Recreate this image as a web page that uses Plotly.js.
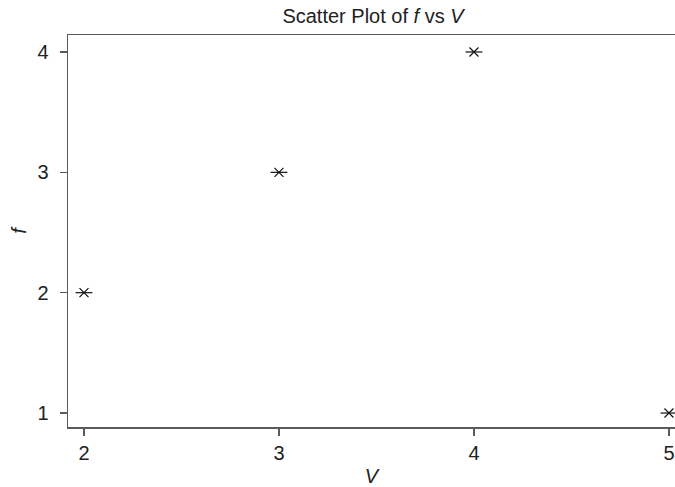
<!DOCTYPE html>
<html>
<head>
<meta charset="utf-8">
<script src="https://cdn.plot.ly/plotly-3.0.1.min.js"></script>
<style>html,body{margin:0;padding:0;background:#fff}#chart{width:675px;height:487px}</style>
</head>
<body>
<div id="chart"></div>
<script>
var vValues = [2, 3, 4, 5];
var fValues = [2, 3, 4, 1];
var xTicks = [2, 3, 4, 5];
var yTicks = [1, 2, 3, 4];

var axisColor = '#5a5a5a';
var textColor = '#222222';
var fontFam = '"Liberation Sans", Arial, Helvetica, sans-serif';

var traces = [
  {x: vValues, y: fValues, type: 'scatter', mode: 'markers', showlegend: false, hoverinfo: 'x+y',
   marker: {symbol: 'x-thin-open', size: 9, color: '#111', line: {color: '#111', width: 1.2}}},
  {x: vValues, y: fValues, type: 'scatter', mode: 'markers', showlegend: false, hoverinfo: 'skip',
   marker: {symbol: 'line-ew-open', size: 12, color: '#111', line: {color: '#111', width: 1.2}}}
];

var layout = {
  width: 675, height: 487,
  margin: {l: 68, r: 0, t: 35, b: 60, pad: 0},
  paper_bgcolor: '#fff', plot_bgcolor: '#fff',
  font: {family: fontFam, size: 20, color: textColor},
  title: {text: 'Scatter Plot of <i>f</i> vs <i>V</i>', x: 373/675, xref: 'container', xanchor: 'center',
          y: 1 - 16/487, yref: 'container', yanchor: 'middle', font: {size: 20, color: textColor, family: fontFam}},
  xaxis: {
    range: [1.918, 5.031], tickvals: xTicks, ticktext: xTicks.map(String),
    showgrid: false, zeroline: false, showline: true, mirror: true,
    linecolor: axisColor, linewidth: 1.5, ticks: 'outside', ticklen: 7, tickwidth: 1.5, tickcolor: axisColor,
    tickfont: {size: 20, color: textColor}, automargin: false,
    title: {text: '<i>V</i>', font: {size: 20, color: textColor}, standoff: 12}
  },
  yaxis: {
    range: [0.884, 4.141], tickvals: yTicks, ticktext: yTicks.map(String),
    showgrid: false, zeroline: false, showline: true, mirror: false,
    linecolor: axisColor, linewidth: 1.5, ticks: 'outside', ticklen: 7, tickwidth: 1.5, tickcolor: axisColor,
    tickfont: {size: 20, color: textColor}, automargin: false, ticklabelstandoff: 7,
    title: {text: '<i>f</i>', font: {size: 20, color: textColor}, standoff: 5}
  }
};

Plotly.newPlot('chart', traces, layout, {displayModeBar: false, staticPlot: true});
</script>
</body>
</html>
